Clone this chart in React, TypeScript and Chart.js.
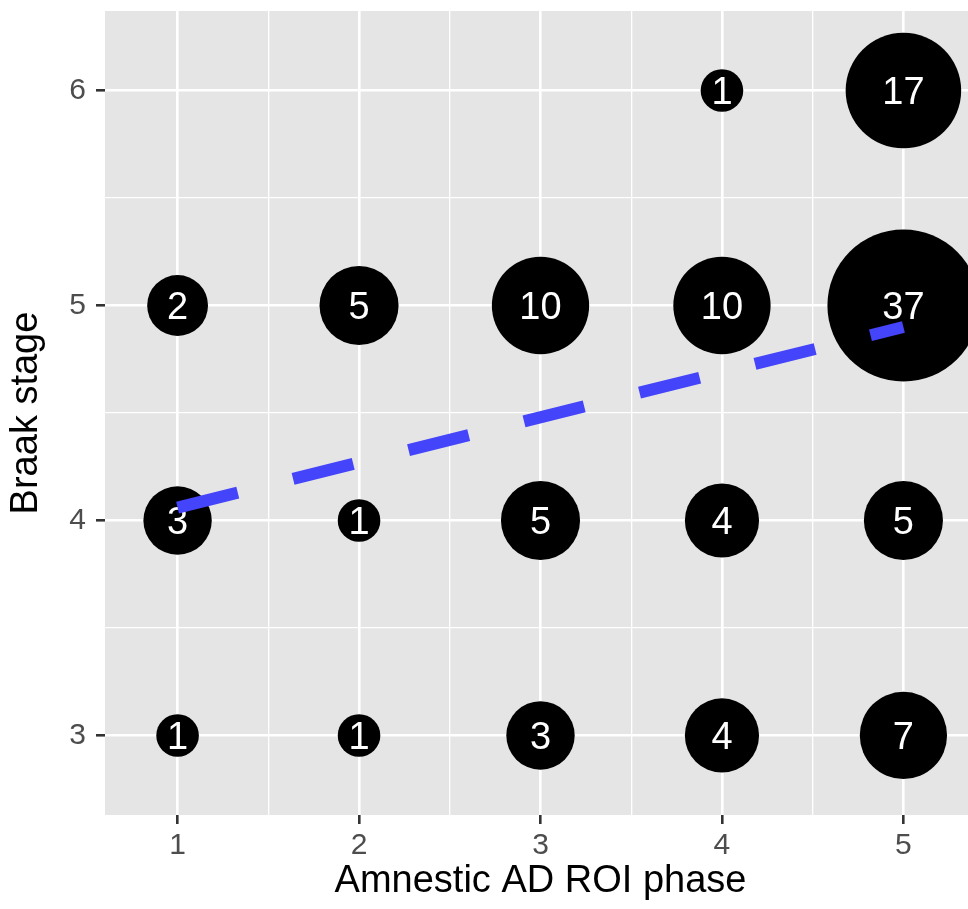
import React, { useEffect, useRef } from "react";
import { Chart, registerables } from "chart.js";

Chart.register(...registerables);

// ---- data ----
const phaseTicks = [1, 2, 3, 4, 5];
const braakTicks = [3, 4, 5, 6];
const phase = [1, 1, 1, 2, 2, 2, 3, 3, 3, 4, 4, 4, 4, 5, 5, 5, 5];
const braak = [3, 4, 5, 3, 4, 5, 3, 4, 5, 3, 4, 5, 6, 3, 4, 5, 6];
const counts = [1, 3, 2, 1, 1, 5, 3, 5, 10, 4, 4, 10, 1, 7, 5, 37, 17];
const trendX = [1, 5];
const trendY = [4.06, 4.9];

const xTitle = "Amnestic AD ROI phase";
const yTitle = "Braak stage";

// ---- style ----
const FONT = "'Liberation Sans', Arial, Helvetica, sans-serif";
const R_MIN = 21.3;
const R_MAX = 76;
const W = 976;
const H = 909;

function withMinor(ticks: number[]) {
  const out: number[] = [];
  for (let i = 0; i < ticks.length; i++) {
    out.push(ticks[i]);
    if (i < ticks.length - 1) out.push((ticks[i] + ticks[i + 1]) / 2);
  }
  return out;
}

const isMajor = (v: number) => Math.abs(v - Math.round(v)) < 1e-9;

export default function App() {
  const ref = useRef<HTMLCanvasElement | null>(null);

  useEffect(() => {
    if (!ref.current) return;
    const cMin = Math.min(...counts);
    const cMax = Math.max(...counts);
    const bubbleData = counts.map((n, i) => ({
      x: phase[i],
      y: braak[i],
      r: R_MIN + (R_MAX - R_MIN) * Math.sqrt((n - cMin) / (cMax - cMin)),
      n,
    }));
    const lineData = trendX.map((x, i) => ({ x, y: trendY[i] }));

    const bgPlugin = {
      id: "panelBg",
      beforeDraw(chart: any) {
        const { ctx, chartArea } = chart;
        ctx.save();
        ctx.fillStyle = "#E5E5E5";
        ctx.fillRect(chartArea.left, chartArea.top, chartArea.right - chartArea.left, chartArea.bottom - chartArea.top);
        ctx.restore();
      },
    };

    const labelPlugin = {
      id: "bubbleLabels",
      afterDatasetDraw(chart: any, args: any) {
        if (args.index !== 0) return;
        const { ctx } = chart;
        const meta = chart.getDatasetMeta(0);
        ctx.save();
        ctx.fillStyle = "#FFFFFF";
        ctx.font = `38px ${FONT}`;
        ctx.textAlign = "center";
        ctx.textBaseline = "middle";
        meta.data.forEach((el: any, i: number) => {
          ctx.fillText(String(counts[i]), el.x, el.y + 3);
        });
        ctx.restore();
      },
    };

    const gridOpts = {
      color: "#FFFFFF",
      lineWidth: (c: any) => (isMajor(c.tick.value) ? 2.6 : 1.3),
      drawTicks: true,
      tickLength: 9,
      tickColor: (c: any) => (isMajor(c.tick.value) ? "#333333" : "rgba(0,0,0,0)"),
      tickWidth: (c: any) => (isMajor(c.tick.value) ? 2.6 : 0),
    };

    const chart = new Chart(ref.current, {
      type: "bubble",
      data: {
        datasets: [
          {
            type: "bubble",
            data: bubbleData as any,
            backgroundColor: "#000000",
            borderWidth: 0,
            order: 1,
            clip: false as any,
          },
          {
            type: "line",
            data: lineData as any,
            borderColor: "#4444FA",
            borderWidth: 12,
            borderDash: [62, 57],
            borderCapStyle: "butt",
            pointRadius: 0,
            fill: false,
            order: 0,
          } as any,
        ],
      },
      options: {
        animation: false,
        responsive: false,
        events: [],
        layout: { padding: { top: 11, left: 0, right: 0, bottom: 0 }, autoPadding: false },
        plugins: { legend: { display: false }, tooltip: { enabled: false } },
        scales: {
          x: {
            type: "linear",
            min: 0.6,
            max: 5.4,
            afterBuildTicks: (s: any) => {
              s.ticks = withMinor(phaseTicks).map((v) => ({ value: v }));
            },
            afterFit: (s: any) => {
              s.height = 94;
              s.paddingLeft = 0;
              s.paddingRight = 0;
            },
            grid: gridOpts as any,
            border: { display: false },
            ticks: {
              color: "#4D4D4D",
              font: { family: FONT, size: 30 },
              padding: 4,
              maxRotation: 0,
              autoSkip: false,
              callback: (v: any) => (isMajor(Number(v)) ? String(v) : ""),
            },
            title: {
              display: true,
              text: xTitle,
              color: "#000000",
              font: { family: FONT, size: 38, lineHeight: 1.2 },
              padding: { top: 0, bottom: 4.5 },
            },
          },
          y: {
            type: "linear",
            min: 2.63,
            max: 6.37,
            afterBuildTicks: (s: any) => {
              s.ticks = withMinor(braakTicks).map((v) => ({ value: v }));
            },
            afterFit: (s: any) => {
              s.width = 105;
              s.paddingTop = 0;
              s.paddingBottom = 0;
            },
            grid: gridOpts as any,
            border: { display: false },
            ticks: {
              color: "#4D4D4D",
              font: { family: FONT, size: 30 },
              padding: 10,
              autoSkip: false,
              callback: (v: any) => (isMajor(Number(v)) ? String(v) : ""),
            },
            title: {
              display: true,
              text: yTitle,
              color: "#000000",
              font: { family: FONT, size: 38, lineHeight: 1.2 },
              padding: { top: 4, bottom: 0 },
            },
          },
        },
      },
      plugins: [bgPlugin, labelPlugin],
    });
    return () => chart.destroy();
  }, []);

  return (
    <div style={{ position: "fixed", left: 0, top: 0, width: 968, height: 909, overflow: "hidden", background: "#fff" }}>
      <canvas ref={ref} width={W} height={H} style={{ width: W, height: H, display: "block" }} />
    </div>
  );
}
